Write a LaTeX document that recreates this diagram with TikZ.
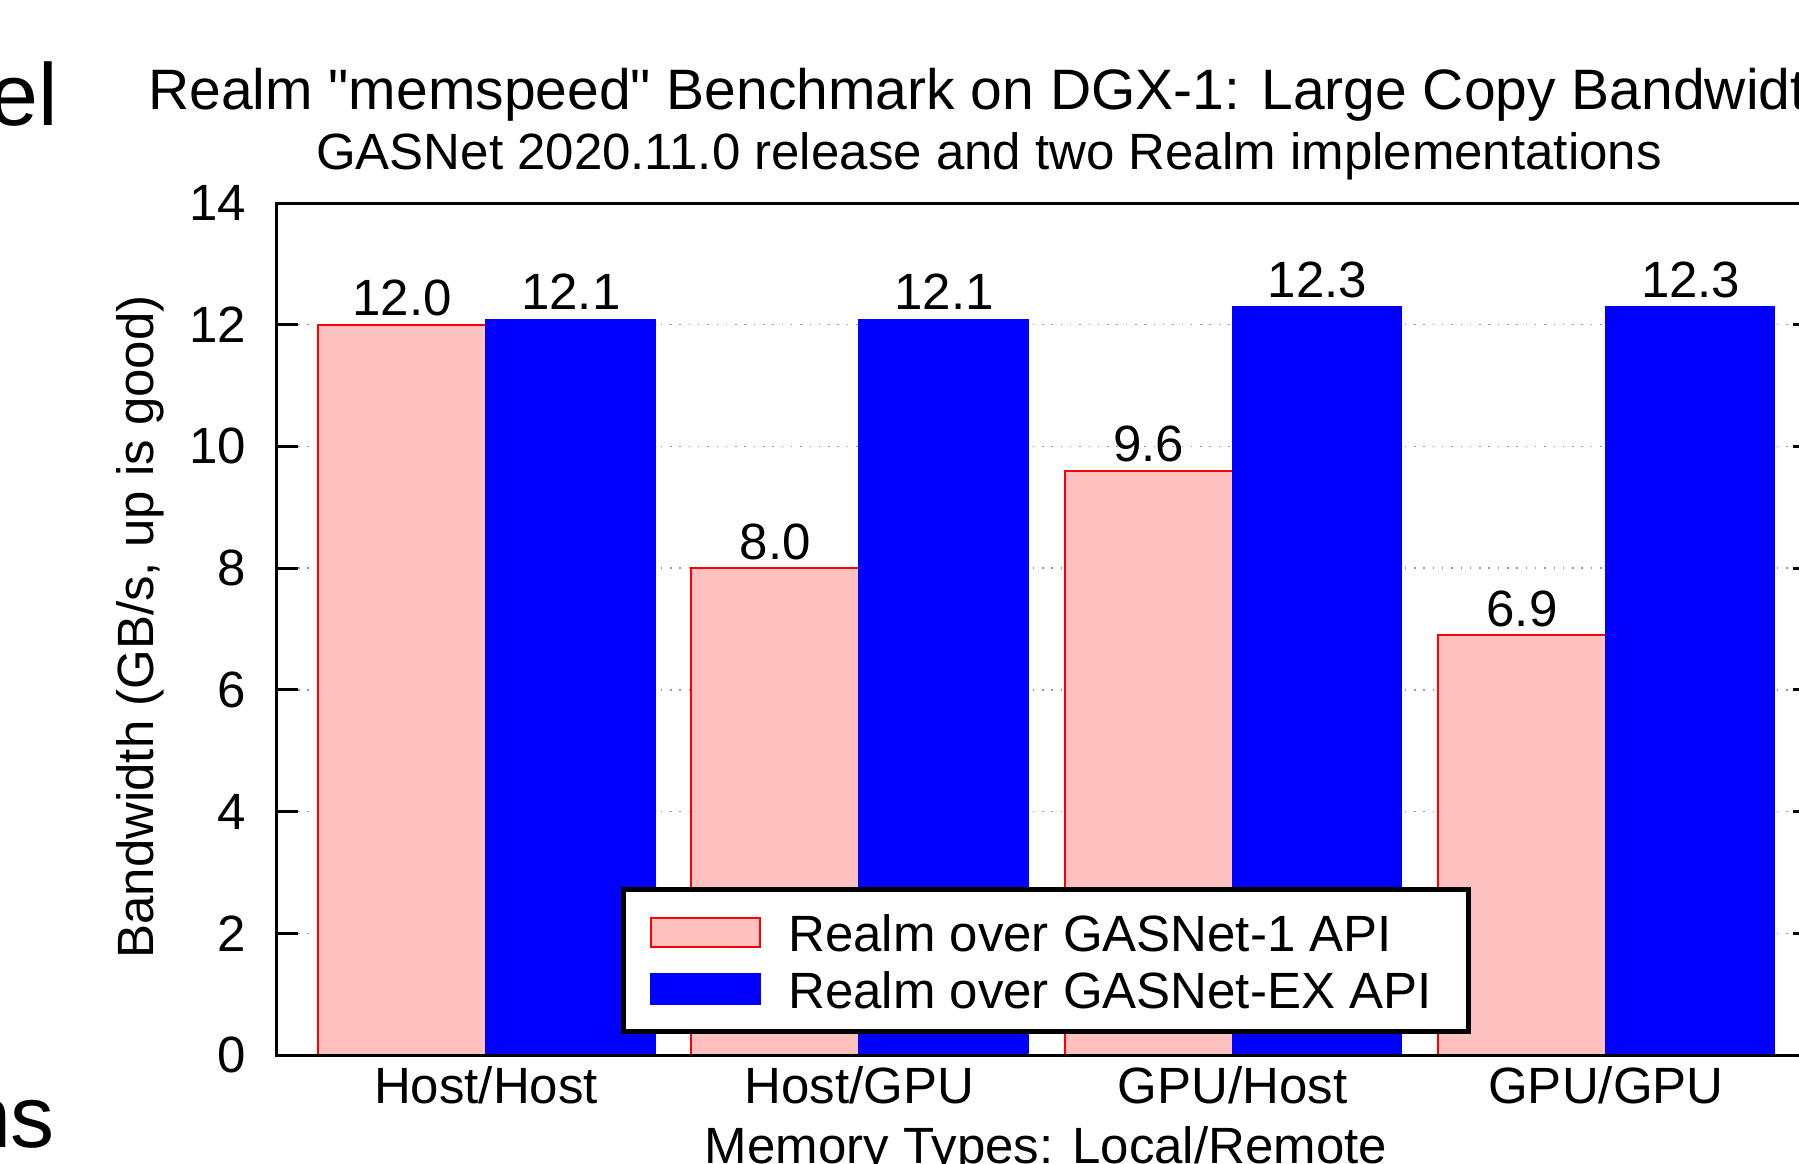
\documentclass[tikz,border=0pt]{standalone}
\usepackage{fontspec}
\setmainfont{Liberation Sans}[Ligatures=TeXOff]
\definecolor{barpink}{RGB}{255,192,192}
\definecolor{gridgray}{RGB}{150,150,150}
\begin{document}
\begin{tikzpicture}[x=1pt,y=-1pt,
  lbl/.style={inner sep=0pt, font=\fontsize{51}{61}\selectfont},
  ttl/.style={inner sep=0pt, font=\fontsize{57}{68}\selectfont},
  frag/.style={inner sep=0pt, font=\fontsize{88}{100}\selectfont},
  axisline/.style={line width=3pt, black},
  gridline/.style={line width=1.5pt, gridgray, dash pattern=on 1.5pt off 7.8pt},
  pinkbar/.style={fill=barpink, draw=red, line width=2pt},
  bluebar/.style={fill=blue},
  legendbox/.style={line width=5pt, draw=black, fill=white}]
\useasboundingbox (0,0) rectangle (1799,1164);
\fill[white] (0,0) rectangle (1799,1164);
% grid
\foreach \v in {2,4,...,12}{
  \draw[gridline] (298,{1055-60.857*\v}) -- (1799,{1055-60.857*\v});
}
% bars
\foreach \i/\a/\b in {0/12.0/12.1, 1/8.0/12.1, 2/9.6/12.3, 3/6.9/12.3}{
  \pgfmathsetmacro\gx{486+373.3*\i}
  \pgfmathsetmacro\ya{1055-60.857*\a}
  \pgfmathsetmacro\yb{1055-60.857*\b}
  \draw[pinkbar] ({\gx-168},1055) rectangle (\gx,\ya);
  \fill[bluebar] ({\gx-1},1055) rectangle ({\gx+169.5},\yb);
  \node[lbl, anchor=base] (va\i) at ({\gx-84},{\ya-9}) {\a};
  \node[lbl, anchor=base] (vb\i) at ({\gx+84.75},{\yb-9}) {\b};
}
% axes
\draw[axisline] (1799,203) -- (276,203) -- (276,1055) -- (1799,1055);
\foreach \v in {2,4,...,12}{
  \draw[axisline] (276,{1055-60.857*\v}) -- (298,{1055-60.857*\v});
  \draw[axisline] (1793,{1055-60.857*\v}) -- (1799,{1055-60.857*\v});
}
\foreach \v in {0,2,...,14}{
  \node[lbl, anchor=east] (yt\v) at (246,{1055-60.857*\v}) {\v};
}
% category labels
\node[lbl, anchor=base] (xt0) at (486,1103) {Host/Host};
\node[lbl, anchor=base] (xt1) at (859.3,1103) {Host/GPU};
\node[lbl, anchor=base] (xt2) at (1232.6,1103) {GPU/Host};
\node[lbl, anchor=base] (xt3) at (1605.9,1103) {GPU/GPU};
% axis titles
\node[lbl, rotate=90, anchor=base] (ylabel) at (153,627) {Bandwidth (GB/s, up is good)};
\node[lbl, anchor=base] (xlabel) at (1046,1163) {Memory Types: Local/Remote};
% titles
\node[ttl, anchor=base west] (title) at (148,109) {Realm "memspeed" Benchmark on DGX-1: Large Copy Bandwidt};
\node[lbl, anchor=base] (subtitle) at (989,169) {GASNet 2020.11.0 release and two Realm implementations};
% legend
\draw[legendbox] (623.5,889.5) rectangle (1468.5,1031.5);
\draw[pinkbar] (651,917.5) rectangle (760,947);
\fill[bluebar] (650,973) rectangle (761,1005);
\node[lbl, anchor=base west] (leg1) at (788,951) {Realm over GASNet-1 API};
\node[lbl, anchor=base west] (leg2) at (788,1008) {Realm over GASNet-EX API};
% slide fragments at left edge
\node[frag, anchor=base east] (frag1) at (58.3,125) {el};
\node[frag, anchor=base east] (frag2) at (55.2,1147) {ns};
\end{tikzpicture}
\end{document}
